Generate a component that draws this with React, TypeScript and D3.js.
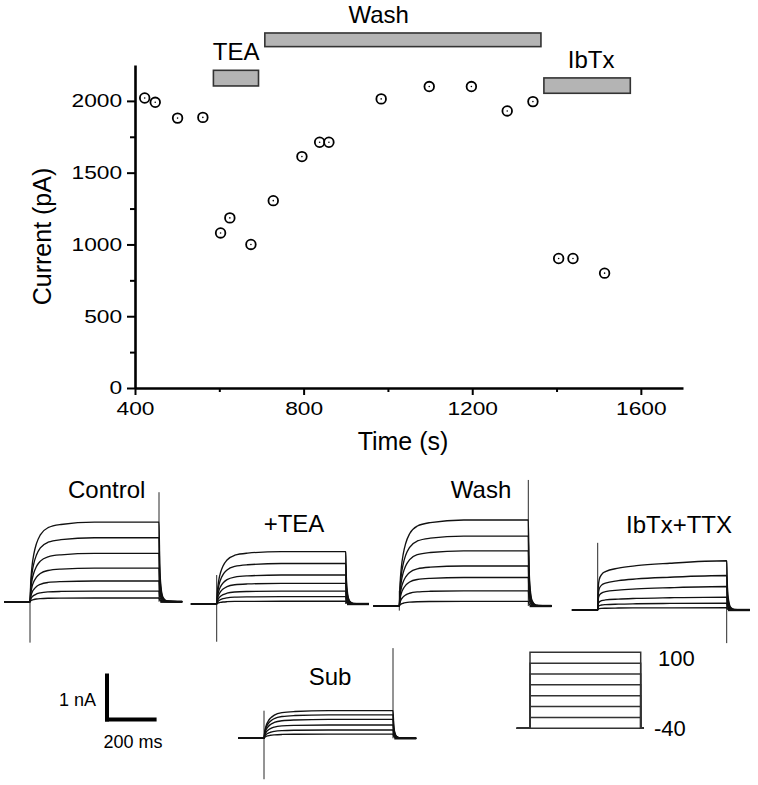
import React, { useEffect, useRef } from 'react';
import * as d3 from 'd3';

// peak current over the experiment (top panel)
const times = [423, 448, 501, 561, 603, 625, 675, 728, 796, 838, 860, 984, 1098, 1198, 1283, 1344, 1405, 1439, 1514];
const currents = [2020, 1990, 1880, 1885, 1080, 1185, 1000, 1305, 1612, 1712, 1712, 2014, 2100, 2100, 1930, 1995, 902, 902, 800];
const xMajor = [400, 800, 1200, 1600];
const xMinor = [600, 1000, 1400];
const yMajor = [0, 500, 1000, 1500, 2000];
const yMinor = [250, 750, 1250, 1750];

// drug application bars (s) and their vertical extent (pA)
const drugNames = ['TEA', 'Wash', 'IbTx'];
const drugStart = [586, 708, 1370];
const drugEnd = [693, 1363, 1575];
const drugLow = [2104, 2378, 2053];
const drugHigh = [2213, 2473, 2160];
const drugLabelAt = [640, 978, 1482];

// current traces: steady-state amplitude of each sweep (nA)
const traceNames = ['Control', '+TEA', 'Wash', 'IbTx+TTX', 'Sub'];
const controlAmps = [1.73, 1.39, 1.05, 0.73, 0.45, 0.23, 0.08];
const teaAmps = [1.14, 0.88, 0.63, 0.45, 0.28, 0.16, 0.06];
const washAmps = [1.87, 1.52, 1.2, 0.87, 0.62, 0.33, 0.1];
const ibtxAmps = [1.07, 0.75, 0.51, 0.28, 0.15, 0.05];
const subAmps = [0.6, 0.51, 0.41, 0.29, 0.18, 0.09];

// activation time course (ms after step onset, fraction of steady state)
const riseT = [0, 3, 8, 15, 25, 40, 70, 120, 250, 500];
const riseF = [0, 0.25, 0.45, 0.6, 0.73, 0.84, 0.93, 0.97, 1, 1];
const slowRiseT = [0, 2, 6, 15, 30, 80, 150, 280, 500];
const slowRiseF = [0, 0.45, 0.62, 0.72, 0.78, 0.85, 0.9, 0.95, 1];
// deactivation after the step (ms after step end, fraction)
const tailT = [3, 8, 15, 30, 90];
const tailF = [0.45, 0.18, 0.06, 0.01, 0];
// capacitive transients, min and max (nA)
const onsetSpikes = [[-0.89, 0], [-0.82, 0.63], [-0.1, 0.33], [0, 1.46], [-0.89, 0.6]];
const offsetSpikes = [[0, 2.38], [0, 1.14], [0, 2.74], [-0.72, 1.07], [0, 1.96]];

// voltage protocol (mV)
const stepVoltages = [-40, -20, 0, 20, 40, 60, 80, 100];

const FONT = '"Liberation Sans", Arial, Helvetica, sans-serif';

const App = () => {
  const svgRef = useRef<SVGSVGElement>(null);

  useEffect(() => {
    const svg = d3.select(svgRef.current);
    svg.selectAll('*').remove();

    const x = d3.scaleLinear().domain([400, 1700]).range([135, 683]);
    const y = d3.scaleLinear().domain([0, 2250]).range([388, 65]);

    // minor ticks first, then major axes on top
    svg.append('g').attr('transform', `translate(0,${y(0)})`)
      .call(d3.axisBottom(x).tickValues(xMinor).tickSize(4).tickSizeOuter(0).tickFormat(() => ''))
      .call((g) => g.select('.domain').remove());
    svg.append('g').attr('transform', `translate(${x(400)},0)`)
      .call(d3.axisLeft(y).tickValues(yMinor).tickSize(5).tickSizeOuter(0).tickFormat(() => ''))
      .call((g) => g.select('.domain').remove());

    const gx = svg.append('g').attr('transform', `translate(0,${y(0)})`)
      .call(d3.axisBottom(x).tickValues(xMajor).tickSize(7).tickSizeOuter(0).tickPadding(7).tickFormat(d3.format('d')));
    const gy = svg.append('g').attr('transform', `translate(${x(400)},0)`)
      .call(d3.axisLeft(y).tickValues(yMajor).tickSize(8).tickSizeOuter(0).tickPadding(2.5).tickFormat(d3.format('d')));

    [gx, gy].forEach((g) => {
      g.select('.domain').attr('stroke', '#000').attr('stroke-width', 2.6);
      g.selectAll('text').attr('font-family', FONT).attr('font-size', 18.5).attr('fill', '#000').attr('transform', 'scale(1.23,1)');
    });
    svg.selectAll('.tick line').attr('stroke', '#000').attr('stroke-width', 2);

    svg.append('text')
      .attr('transform', `translate(51,${(y(0) + y(2250)) / 2 + 10}) rotate(-90)`)
      .attr('text-anchor', 'middle').attr('font-family', FONT).attr('font-size', 25)
      .text('Current (pA)');
    svg.append('text')
      .attr('x', 403).attr('y', 450)
      .attr('text-anchor', 'middle').attr('font-family', FONT).attr('font-size', 25)
      .text('Time (s)');

    // drug bars
    drugNames.forEach((name, i) => {
      svg.append('rect')
        .attr('x', x(drugStart[i])).attr('y', y(drugHigh[i]))
        .attr('width', x(drugEnd[i]) - x(drugStart[i]))
        .attr('height', y(drugLow[i]) - y(drugHigh[i]))
        .attr('fill', '#b4b4b4').attr('stroke', '#333').attr('stroke-width', 1.6);
      svg.append('text')
        .attr('x', x(drugLabelAt[i])).attr('y', y(drugHigh[i]) - 10)
        .attr('text-anchor', 'middle').attr('font-family', FONT).attr('font-size', 24)
        .text(name);
    });

    // data points: open circle with a centre dot
    const pts = svg.append('g').selectAll('g').data(times).enter().append('g')
      .attr('transform', (d, i) => `translate(${x(d)},${y(currents[i])})`);
    pts.append('circle').attr('r', 4.8).attr('fill', '#fff').attr('stroke', '#000').attr('stroke-width', 1.8);
    pts.append('circle').attr('r', 0.8).attr('fill', '#000');

    // ---- current traces ----
    const t = d3.scaleLinear().domain([0, 200]).range([0, 51.6]);
    const amp = d3.scaleLinear().domain([0, 1]).range([0, -46]);
    const line = d3.line<[number, number]>().x((d) => t(d[0])).y((d) => amp(d[1])).curve(d3.curveMonotoneX);

    const allAmps = [controlAmps, teaAmps, washAmps, ibtxAmps, subAmps];
    const origin = [[30, 601.7], [216.7, 604], [399.3, 606], [597.7, 610], [264, 738.3]];
    const labelPos = [[106.7, 498], [294, 531.7], [481, 498], [679, 533], [330, 685]];

    traceNames.forEach((name, p) => {
      const g = svg.append('g').attr('transform', `translate(${origin[p][0]},${origin[p][1]})`);
      const rT = p === 3 ? slowRiseT : riseT;
      const rF = p === 3 ? slowRiseF : riseF;
      allAmps[p].forEach((a) => {
        const pts: [number, number][] = [[-100, 0]];
        rT.forEach((tt, k) => pts.push([tt, rF[k] * a]));
        tailT.forEach((tt, k) => pts.push([500 + tt, tailF[k] * a]));
        g.append('path').attr('d', line(pts)).attr('fill', 'none').attr('stroke', '#111').attr('stroke-width', 1.35);
      });
      // thick, noisy-looking tail after the step
      g.append('path').attr('d', line([[505, 0], [590, 0]])).attr('stroke', '#111').attr('stroke-width', 2.4);
      g.append('line').attr('x1', t(0)).attr('x2', t(0))
        .attr('y1', amp(onsetSpikes[p][0])).attr('y2', amp(onsetSpikes[p][1]))
        .attr('stroke', '#111').attr('stroke-width', 0.9);
      g.append('line').attr('x1', t(500)).attr('x2', t(500))
        .attr('y1', amp(offsetSpikes[p][0])).attr('y2', amp(offsetSpikes[p][1]))
        .attr('stroke', '#111').attr('stroke-width', 0.9);
      svg.append('text')
        .attr('x', labelPos[p][0]).attr('y', labelPos[p][1])
        .attr('text-anchor', 'middle').attr('font-family', FONT).attr('font-size', 24)
        .text(name);
    });

    // scale bar: 1 nA, 200 ms
    const sx = 105;
    const sy = 719.5;
    svg.append('line').attr('x1', sx + 2).attr('x2', sx + 2).attr('y1', sy + 2).attr('y2', sy + amp(1))
      .attr('stroke', '#000').attr('stroke-width', 4);
    svg.append('line').attr('x1', sx).attr('x2', sx + t(200)).attr('y1', sy).attr('y2', sy)
      .attr('stroke', '#000').attr('stroke-width', 4);
    svg.append('text').attr('x', 96).attr('y', 706).attr('text-anchor', 'end')
      .attr('font-family', FONT).attr('font-size', 18).text('1 nA');
    svg.append('text').attr('x', 133).attr('y', 748).attr('text-anchor', 'middle')
      .attr('font-family', FONT).attr('font-size', 18).text('200 ms');

    // voltage protocol
    const pt = d3.scaleLinear().domain([0, 500]).range([530, 640.7]);
    const pv = d3.scaleLinear().domain([-40, 100]).range([728.3, 652.3]);
    const pline = d3.line<[number, number]>().x((d) => pt(d[0])).y((d) => pv(d[1]));
    stepVoltages.forEach((v) => {
      svg.append('path')
        .attr('d', pline([[-60, -40], [0, -40], [0, v], [500, v], [500, -40], [515, -40]]))
        .attr('fill', 'none').attr('stroke', '#333').attr('stroke-width', 1.5);
    });
    svg.append('text').attr('x', 658).attr('y', pv(100) + 14)
      .attr('font-family', FONT).attr('font-size', 22).text('100');
    svg.append('text').attr('x', 654).attr('y', pv(-40) + 8)
      .attr('font-family', FONT).attr('font-size', 22).text('-40');
  }, []);

  return (
    <svg ref={svgRef} width={758} height={785}
      style={{ position: 'absolute', left: 0, top: 0, background: '#fff' }} />
  );
};

export default App;
